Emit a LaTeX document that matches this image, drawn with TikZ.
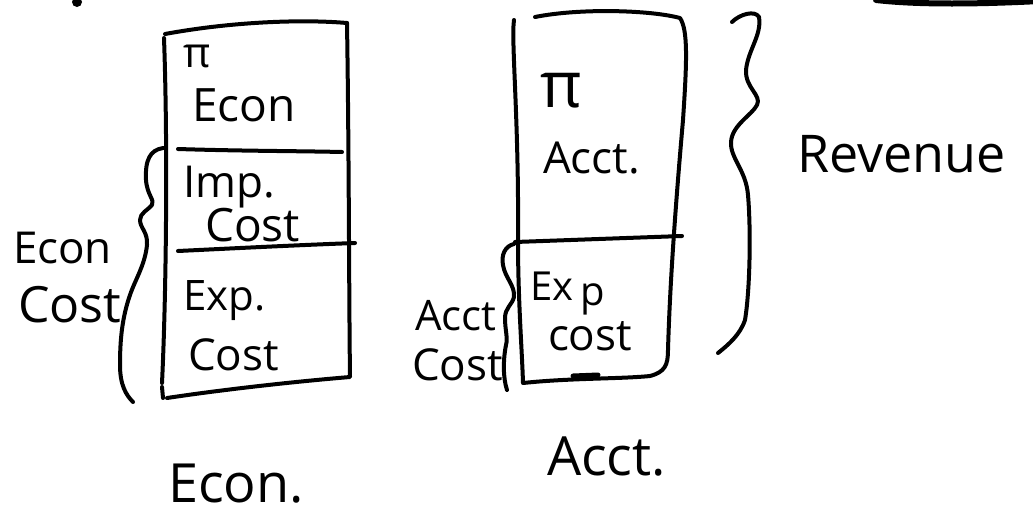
\documentclass[tikz,border=0pt]{standalone}
\usepackage{fontspec}
\setmainfont{Open Sans}
\newcommand{\fsz}[1]{\fontsize{#1}{#1}\selectfont}
\begin{document}
\begin{tikzpicture}[x=1pt,y=-1pt,
  ink/.style={line width=4pt,line cap=round,line join=round},
  lbl/.style={anchor=base west,inner sep=0pt,outer sep=0pt,text depth=0pt}]
\useasboundingbox (0,0) rectangle (1033,517);

% stray marks at the top edge
\fill (77,2) circle (5);
\draw[line width=6pt,line cap=round] (876,0) .. controls (920,5) and (980,4) .. (1040,1);

% ---- economic box ----
\draw[ink] (165,34) .. controls (230,22) and (300,19) .. (347,23);
\draw[ink] (164,38) .. controls (168,150) and (166,300) .. (162,383);
\draw[ink] (162,387) -- (163,398);
\draw[ink] (347,23) .. controls (349,150) and (349,300) .. (350,377)
  .. controls (290,382) and (220,390) .. (167,398);
\draw[ink] (178,149) .. controls (240,151) and (300,151) .. (342,152);
\draw[ink] (178,251) .. controls (240,248) and (300,245) .. (355,243);

% brace: economic cost
\draw[ink] (163,148) .. controls (150,150) and (145,160) .. (146,180)
  .. controls (147,195) and (155,200) .. (152,205)
  .. controls (148,210) and (140,213) .. (140,220)
  .. controls (140,228) and (148,232) .. (147,245)
  .. controls (145,265) and (135,280) .. (130,295)
  .. controls (122,318) and (120,340) .. (120,365)
  .. controls (120,385) and (126,395) .. (133,402);

\node[lbl,font=\fsz{42}] (pie) at (183,67) {π};
\node[lbl,font=\fsz{46}] (econtop) at (192,121) {Econ};
\node[lbl,font=\fsz{44}] (imp) at (183,197) {Imp.};
\node[lbl,font=\fsz{46}] (impc) at (205,241) {Cost};
\node[lbl,font=\fsz{42}] (exp) at (183,310) {Exp.};
\node[lbl,font=\fsz{44}] (expc) at (188,370) {Cost};
\node[lbl,font=\fsz{44}] (ecl) at (13,263) {Econ};
\node[lbl,font=\fsz{50}] (ecc) at (18,322) {Cost};
\node[lbl,font=\fsz{54}] (econ) at (168,502) {Econ.};

% ---- accounting box ----
\draw[ink] (514,20) .. controls (511,40) and (519,120) .. (518,240)
  .. controls (518,300) and (522,350) .. (523,383)
  .. controls (570,378) and (620,379) .. (650,376)
  .. controls (665,372) and (668,365) .. (668,350)
  .. controls (670,280) and (676,200) .. (683,120)
  .. controls (687,60) and (688,30) .. (680,18)
  .. controls (650,10) and (580,8) .. (535,17);
\draw[line width=5pt,line cap=round] (573,376) -- (598,375);
\draw[ink] (515,242) -- (682,236);

% brace: accounting cost
\draw[ink] (514,244) .. controls (505,246) and (501,255) .. (503,265)
  .. controls (505,278) and (515,285) .. (514,297)
  .. controls (512,305) and (505,308) .. (505,318)
  .. controls (505,330) and (508,338) .. (506,345)
  .. controls (503,360) and (503,378) .. (507,390);

% brace: revenue
\draw[ink] (732,22) .. controls (740,14) and (755,10) .. (759,17)
  .. controls (762,35) and (748,50) .. (746,70)
  .. controls (745,88) and (762,95) .. (757,105)
  .. controls (752,115) and (732,125) .. (731,142)
  .. controls (730,158) and (746,170) .. (748,195)
  .. controls (751,230) and (750,290) .. (745,320)
  .. controls (740,335) and (728,345) .. (718,353);

\node[lbl,font=\fsz{64}] (pia) at (540,107) {π};
\node[lbl,font=\fsz{44}] (accttop) at (543,173) {Acct.};
\node[lbl,font=\fsz{40}] (ex) at (530,300) {Ex};
\node[lbl,font=\fsz{40}] (exp2) at (580,305) {p};
\node[lbl,font=\fsz{44}] (cust) at (548,350) {cost};
\node[lbl,font=\fsz{42}] (acl) at (415,330) {Acct};
\node[lbl,font=\fsz{44}] (acc) at (412,380) {Cost};
\node[lbl,font=\fsz{52}] (rev) at (797,172) {Revenue};
\node[lbl,font=\fsz{54}] (acct) at (547,475) {Acct.};
\end{tikzpicture}
\end{document}
